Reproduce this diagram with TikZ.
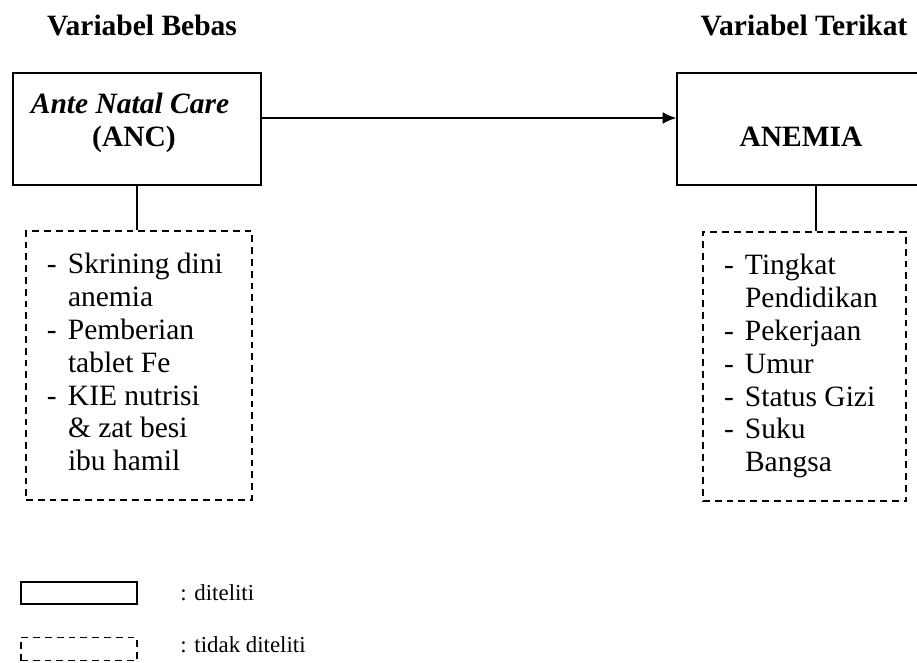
\documentclass[tikz,border=0pt]{standalone}
\usepackage{fontspec}
\setmainfont{Liberation Serif}
\usepackage{array}
\usetikzlibrary{positioning}
\usetikzlibrary{arrows.meta}

\newcommand{\px}{0.4068pt}
\newlength{\pxlen}
\setlength{\pxlen}{0.4068pt}
\newcommand{\bodysize}{\fontsize{12}{13.4}\selectfont}
\newcommand{\legsize}{\fontsize{9.3}{11}\selectfont}

\tikzset{
  solidbox/.style={draw, line width=0.55pt, inner sep=0pt},
  dashbox/.style={draw, line width=0.55pt, dash pattern=on 2.8pt off 2pt},
  heading/.style={font=\bodysize\bfseries, inner sep=0pt, anchor=base},
  boxtext/.style={font=\bodysize\bfseries, inner sep=0pt, anchor=base},
  factors/.style={dashbox, font=\bodysize, inner xsep=21*\px, inner ysep=0pt, minimum height=269*\px},
  legtext/.style={font=\legsize, inner sep=0pt, anchor=base west},
  link/.style={draw, line width=0.55pt},
}

\begin{document}
\begin{tikzpicture}[x=\px, y=-\px]
    \useasboundingbox (0,0) rectangle (917,662);
    \clip (0,0) rectangle (917,662);

    \node[heading] (hbebas) at (142,35) {Variabel Bebas};
    \node[heading] (hterikat) at (804,35) {Variabel Terikat};

    \node[solidbox, minimum width=248*\px, minimum height=112*\px] (anc) at (137,129) {};
    \node[solidbox, minimum width=278*\px, minimum height=112*\px] (anemia) at (816,129) {};
    \node[boxtext] (ancname) at (130,113) {\textit{Ante Natal Care}};
    \node[boxtext] (ancabbr) at (134,146) {(ANC)};
    \node[boxtext] (anemianame) at (801,146) {ANEMIA};

    \node[factors] (ancfactor) at (139,365.5) {%
      \begin{tabular}{@{}p{21\pxlen}@{}p{163\pxlen}@{}}
        - & Skrining dini\\
          & anemia\\
        - & Pemberian\\
          & tablet Fe\\
        - & KIE nutrisi\\
          & \& zat besi\\
          & ibu hamil
      \end{tabular}};
    \node[factors] (anemiafactor) at (804.5,366.5) {%
      \begin{tabular}{@{}p{21\pxlen}@{}p{140\pxlen}@{}}
        - & Tingkat\\
          & Pendidikan\\
        - & Pekerjaan\\
        - & Umur\\
        - & Status Gizi\\
        - & Suku\\
          & Bangsa
      \end{tabular}};

    \draw[link, -{Latex[length=5.6pt, width=4.8pt]}] ([yshift=11*\px]anc.east) -- ([yshift=11*\px]anemia.west);
    \draw[link] (anc.south) -- (anc.south |- ancfactor.north);
    \draw[link] (anemia.south) -- (anemia.south |- anemiafactor.north);

    % legend
    \node[solidbox, minimum width=116*\px, minimum height=22*\px] (legsolid) at (79,593) {};
    \node[dashbox, inner sep=0pt, minimum width=116*\px, minimum height=23*\px] (legdash) at (79,649) {};
    \node[legtext] (legsolidtxt) at (180,600) {: diteliti};
    \node[legtext] (legdashtxt) at (180,652) {: tidak diteliti};
\end{tikzpicture}
\end{document}
